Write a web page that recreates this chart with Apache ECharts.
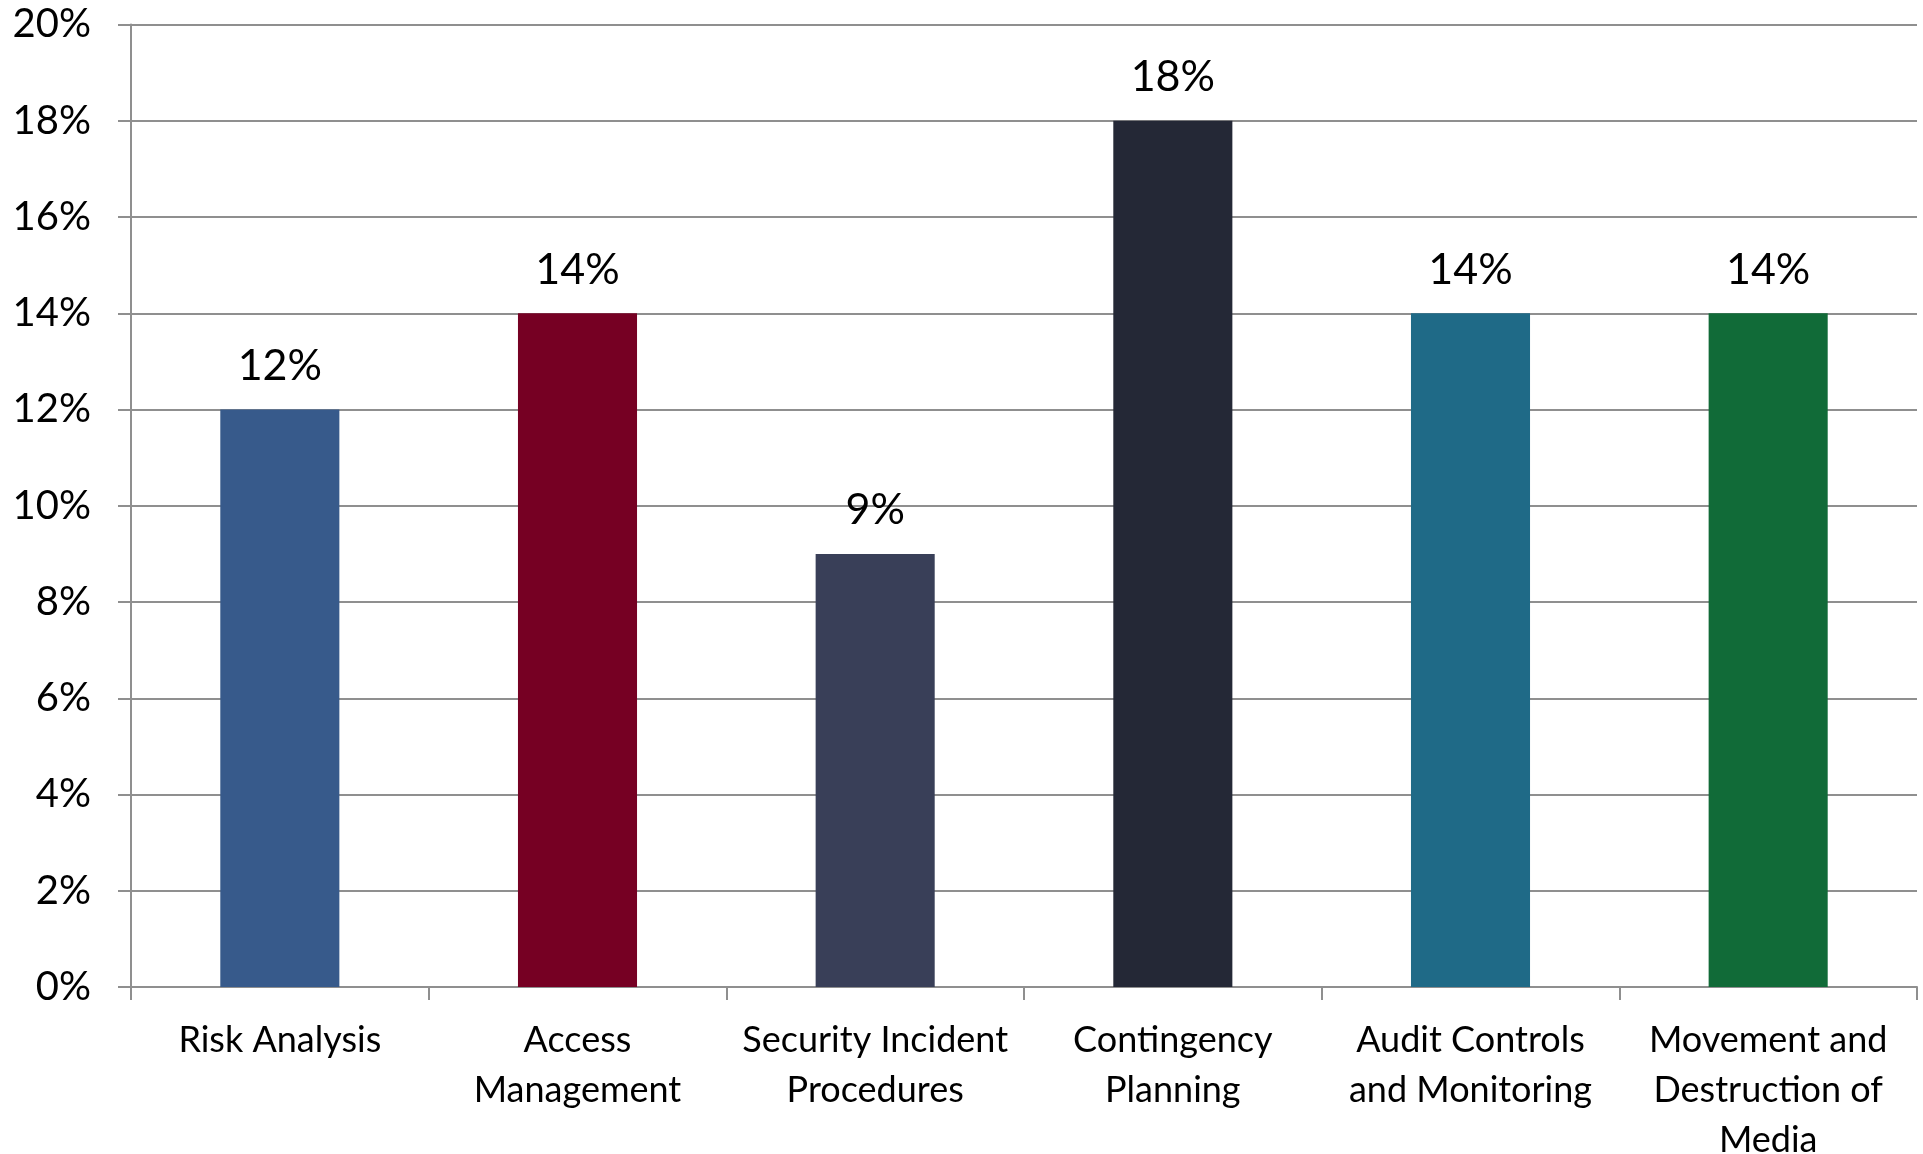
<!DOCTYPE html>
<html>
<head>
<meta charset="utf-8">
<script src="https://cdn.jsdelivr.net/npm/echarts@6/dist/echarts.min.js"></script>
<style>
html,body{margin:0;padding:0;background:#fff;}
#chart{width:1923px;height:1154px;}
</style>
</head>
<body>
<div id="chart"></div>
<script>
const categories = [
  "Risk Analysis",
  "Access\nManagement",
  "Security Incident\nProcedures",
  "Contingency\nPlanning",
  "Audit Controls\nand Monitoring",
  "Movement and\nDestruction of\nMedia"
];
const values = [12, 14, 9, 18, 14, 14];
const barColors = ["#375A8B", "#760023", "#393F58", "#242836", "#1F6A87", "#116B38"];
const yMin = 0, yMax = 20, yInterval = 2;

const FONT = "Lato";
const chart = echarts.init(document.getElementById('chart'));
chart.setOption({
  animation: false,
  backgroundColor: '#ffffff',
  grid: { left: 131, right: 6, top: 24.5, bottom: 167, containLabel: false, outerBoundsMode: 'none' },
  xAxis: {
    type: 'category',
    data: categories,
    axisLine: { show: true, lineStyle: { color: '#8f8f8f', width: 2 } },
    axisTick: { show: true, length: 13, alignWithLabel: false, lineStyle: { color: '#8f8f8f', width: 2 } },
    axisLabel: { interval: 0, color: '#000', fontFamily: FONT, fontSize: 36, lineHeight: 50, margin: 28 },
    splitLine: { show: false }
  },
  yAxis: {
    type: 'value',
    min: yMin, max: yMax, interval: yInterval,
    axisLine: { show: true, lineStyle: { color: '#8f8f8f', width: 2 } },
    axisTick: { show: true, length: 13, inside: false, lineStyle: { color: '#8f8f8f', width: 2 } },
    axisLabel: { formatter: '{value}%', color: '#000', fontFamily: FONT, fontSize: 40, margin: 40 },
    splitLine: { show: true, lineStyle: { color: '#8f8f8f', width: 2 } }
  },
  series: [{
    type: 'bar',
    data: values.map((v, i) => ({ value: v, itemStyle: { color: barColors[i] } })),
    barCategoryGap: '60%',
    label: {
      show: true, position: 'top', distance: 22,
      formatter: '{c}%', color: '#000', fontFamily: FONT, fontSize: 43
    }
  }]
});
</script>
</body>
</html>
